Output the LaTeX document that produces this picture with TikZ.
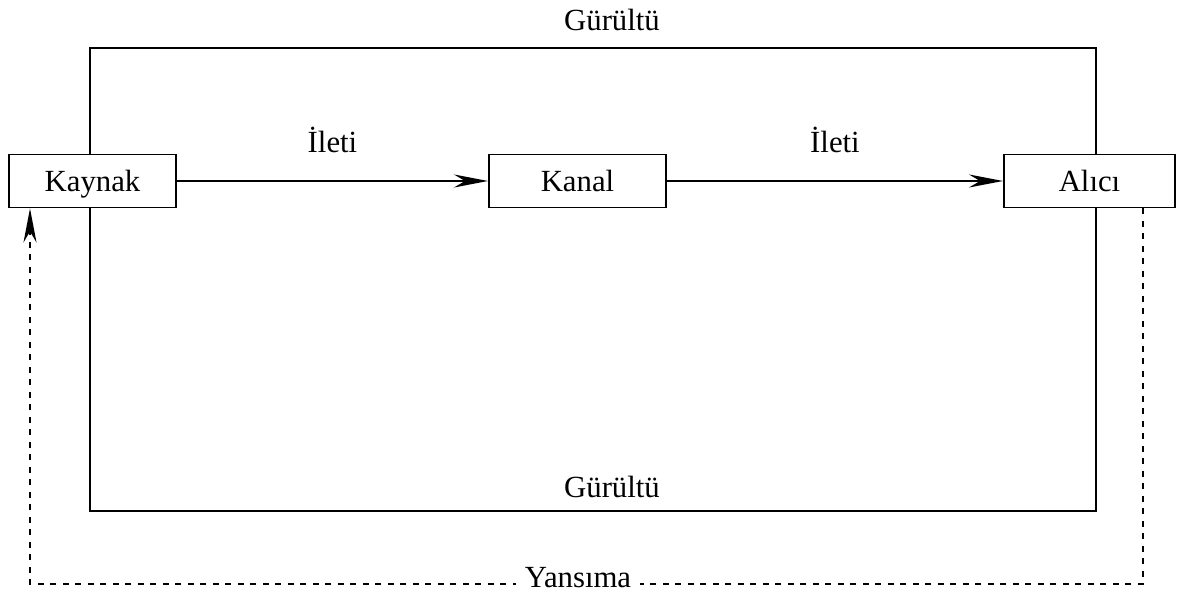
\documentclass[tikz,border=0pt]{standalone}
\usepackage{fontspec}
\setmainfont{Liberation Serif}
\usetikzlibrary{arrows.meta,positioning}

\begin{document}
\begin{tikzpicture}[>={Stealth[length=6.8mm,width=2.6mm,inset=2.2mm]},node distance=9.7cm,on grid,
    line width=1.1pt, font=\fontsize{17.5}{21}\selectfont,
    block/.style={draw, fill=white, minimum height=1.06cm, inner sep=0pt, text height=12pt, text depth=0pt},
    feedback/.style={dash pattern=on 0.12cm off 0.13cm}]
    \useasboundingbox (0,0) rectangle (23.54,-11.96);

    \coordinate (ust) at (12.24,-0.96);
    \coordinate (alt) at (12.24,-10.22);
    \coordinate (yan) at (11.56,-11.68);

    % noise loop behind the boxes
    \draw (1.80,-3.62) |- (ust) -| (21.92,-3.62) |- (alt) -| (1.80,-3.62);

    \node[block, minimum width=3.34cm] (kaynak) at (1.85,-3.62) {Kaynak};
    \node[block, minimum width=3.54cm] (kanal) [right=of kaynak] {Kanal};
    \node[block, minimum width=3.42cm] (alici) [right=10.24cm of kanal] {Alıcı};

    \node (gurultu1) at (12.24,-0.40) {Gürültü};
    \node (gurultu2) at (12.24,-9.74) {Gürültü};

    \path[->, line width=1.1pt]
    (kaynak) edge node[above=0.42cm] {İleti} (kanal)
    (kanal) edge node[above=0.42cm] {İleti} (alici);

    % feedback
    \draw[feedback, ->] ([xshift=1.07cm]alici.south) |- (yan) -| ([xshift=-1.25cm]kaynak.south);
    \node[fill=white, inner sep=5pt] (yansima) at ([yshift=0.12cm]yan) {Yansıma};
\end{tikzpicture}
\end{document}
